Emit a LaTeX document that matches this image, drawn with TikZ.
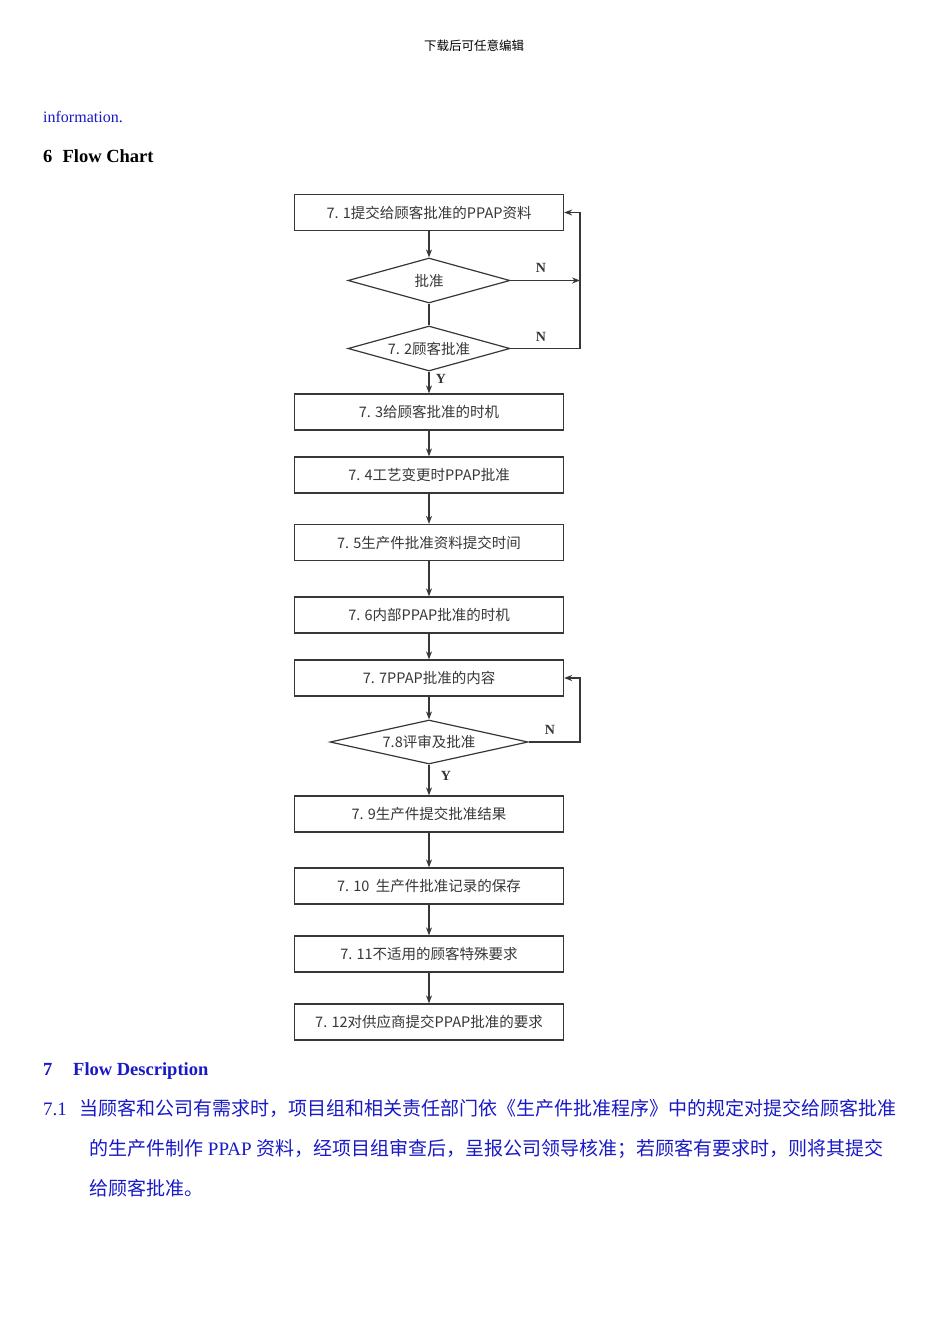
\documentclass[tikz,border=0pt]{standalone}
\usepackage{fontspec}
\setmainfont{Liberation Serif}
\newfontfamily\cjk{Noto Sans CJK SC}
\usetikzlibrary{shapes.geometric,arrows.meta}
\definecolor{txtblue}{RGB}{25,25,200}
\definecolor{chartgray}{RGB}{55,55,55}
\tikzset{
  stepbox/.style={draw=chartgray,line width=1.3pt,minimum width=269pt,minimum height=36pt,inner sep=0pt,
    font=\cjk\fontsize{14.5}{16}\selectfont,text=chartgray},
  decide/.style={draw=chartgray,line width=1.2pt,shape=diamond,inner sep=0pt},
  dlabel/.style={font=\cjk\fontsize{14.5}{16}\selectfont,text=chartgray,inner sep=0pt},
  flow/.style={draw=chartgray,line width=1.2pt,-{Stealth[length=8pt,width=6pt]}},
  plainline/.style={draw=chartgray,line width=1.2pt},
  yn/.style={font=\bfseries\fontsize{14}{15}\selectfont,text=chartgray,inner sep=0pt},
  para/.style={anchor=base west,inner sep=0pt,text=txtblue,font=\fontsize{19}{22}\selectfont}
}
\begin{document}
\begin{tikzpicture}[x=1pt,y=-1pt]
\useasboundingbox[fill=white] (0,0) rectangle (950,1344);

% header and headings
\node[inner sep=0pt,font=\cjk\fontsize{12.5}{14}\selectfont] (hdr) at (474,46) {下载后可任意编辑};
\node[anchor=base west,inner sep=0pt,text=txtblue,font=\fontsize{16}{18}\selectfont] (info) at (43,122) {information.};
\node[anchor=base west,inner sep=0pt,font=\bfseries\fontsize{18.5}{20}\selectfont] (h6) at (43,162) {6\hspace{0.55em}Flow Chart};

% flowchart nodes
\node[stepbox] (b1) at (429,212.5) {7. 1提交给顾客批准的PPAP资料};
\node[decide,minimum width=162pt,minimum height=45pt] (d1) at (429,280.5) {};
\node[dlabel] (d1t) at (d1.center) {批准};
\node[decide,minimum width=162pt,minimum height=45pt] (d2) at (429,348.5) {};
\node[dlabel] (d2t) at (d2.center) {7. 2顾客批准};
\node[stepbox] (b3) at (429,412) {7. 3给顾客批准的时机};
\node[stepbox] (b4) at (429,475) {7. 4工艺变更时PPAP批准};
\node[stepbox] (b5) at (429,542.5) {7. 5生产件批准资料提交时间};
\node[stepbox] (b6) at (429,615) {7. 6内部PPAP批准的时机};
\node[stepbox] (b7) at (429,678) {7. 7PPAP批准的内容};
\node[decide,minimum width=198pt,minimum height=44pt] (d8) at (429,742) {};
\node[dlabel] (d8t) at (d8.center) {7.8评审及批准};
\node[stepbox] (b9) at (429,814) {7. 9生产件提交批准结果};
\node[stepbox] (b10) at (429,886) {7. 10\ \ 生产件批准记录的保存};
\node[stepbox] (b11) at (429,954) {7. 11不适用的顾客特殊要求};
\node[stepbox] (b12) at (429,1022) {7. 12对供应商提交PPAP批准的要求};

\coordinate (r1) at (580,280.5);
\coordinate (r2) at (580,348.5);
\coordinate (r8) at (580,742);

% connectors
\draw[flow] (b1) -- (d1);
\draw[plainline] (d1) -- (d2);
\draw[flow] (d2) -- (b3);
\draw[flow] (d1.east) -- (r1);
\draw[flow] (d2.east) -- (r2) |- (b1.east);
\draw[flow] (b3) -- (b4);
\draw[flow] (b4) -- (b5);
\draw[flow] (b5) -- (b6);
\draw[flow] (b6) -- (b7);
\draw[flow] (b7) -- (d8);
\draw[flow] (d8.east) -- (r8) |- (b7.east);
\draw[flow] (d8) -- (b9);
\draw[flow] (b9) -- (b10);
\draw[flow] (b10) -- (b11);
\draw[flow] (b11) -- (b12);

% labels
\node[yn] (n1) at (541,268) {N};
\node[yn] (n2) at (541,337) {N};
\node[yn] (y2) at (441,379) {Y};
\node[yn] (n8) at (550,730) {N};
\node[yn] (y8) at (446,776) {Y};

% section 7
\node[anchor=base west,inner sep=0pt,text=txtblue,font=\bfseries\fontsize{18.5}{20}\selectfont] (h7) at (43,1075) {7};
\node[anchor=base west,inner sep=0pt,text=txtblue,font=\bfseries\fontsize{18.5}{20}\selectfont] (h7t) at (73,1075) {Flow Description};
\node[para] (p0) at (43,1115) {7.1};
\node[para] (p1) at (79,1115) {\cjk 当顾客和公司有需求时，项目组和相关责任部门依《生产件批准程序》中的规定对提交给顾客批准};
\node[para] (p2) at (89,1155) {{\cjk 的生产件制作} PPAP {\cjk 资料，经项目组审查后，呈报公司领导核准；若顾客有要求时，则将其提交}};
\node[para] (p3) at (89,1195) {\cjk 给顾客批准。};
\end{tikzpicture}
\end{document}
